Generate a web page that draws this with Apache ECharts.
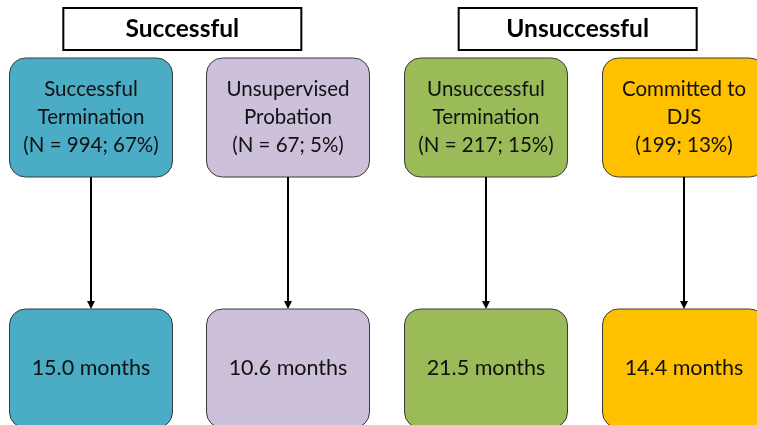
<!DOCTYPE html>
<html>
<head>
<meta charset="utf-8">
<script src="https://cdn.jsdelivr.net/npm/echarts@6/dist/echarts.min.js"></script>
<style>html,body{margin:0;padding:0;background:#fff}#chart{width:757px;height:425px}</style>
</head>
<body>
<div id="chart"></div>
<script>
// ---- data ----
const groups = ['Successful', 'Unsuccessful'];
const groupOf = [0, 0, 1, 1];
const categoryLines = [
  ['Successful', 'Termination'],
  ['Unsupervised', 'Probation'],
  ['Unsuccessful', 'Termination'],
  ['Committed to', 'DJS']
];
const counts = [994, 67, 217, 199];
const percents = [67, 5, 15, 13];
const showN = [true, true, true, false];
const months = [15.0, 10.6, 21.5, 14.4];
const colors = ['#4BACC6', '#CCC0DA', '#9BBB59', '#FFC000'];

const topLabels = categoryLines.map((l, i) =>
  l.join('\n') + '\n(' + (showN[i] ? 'N = ' : '') + counts[i] + '; ' + percents[i] + '%)');
const bottomLabels = months.map(m => m.toFixed(1) + ' months');

const chart = echarts.init(document.getElementById('chart'), null, {renderer: 'canvas'});
const BW = 163, BH = 119, R = 16;
const FONT = '20.5px Lato, "Open Sans", sans-serif';
const FONT_B = '21.5px Lato, "Open Sans", sans-serif';

chart.setOption({
  animation: false,
  backgroundColor: '#ffffff',
  grid: {left: 90.5, width: 593, top: 117.5, height: 251},
  xAxis: {type: 'value', min: 0, max: 3, show: false},
  yAxis: {type: 'value', min: 0, max: 1, inverse: true, show: false},
  series: [
    {
      type: 'custom',
      clip: false,
      data: categoryLines.map((_, i) => [i, 0, 1]),
      renderItem: function (params, api) {
        const i = api.value(0);
        const p1 = api.coord([i, api.value(1)]);
        const p2 = api.coord([i, api.value(2)]);
        const x = Math.round(p1[0]);
        const y1 = p1[1], y2 = p2[1];
        const arrowTop = y1 + BH / 2, arrowBot = y2 - BH / 2;
        return {
          type: 'group',
          children: [
            {type: 'rect', shape: {x: x - BW / 2, y: y1 - BH / 2, width: BW, height: BH, r: R},
             style: {fill: colors[i], stroke: '#3a3a3a', lineWidth: 1}},
            {type: 'text', style: {x: x, y: y1, text: topLabels[i], align: 'center', verticalAlign: 'middle',
             font: FONT, lineHeight: 28, fill: '#111'}},
            {type: 'line', shape: {x1: x, y1: arrowTop, x2: x, y2: arrowBot - 5},
             style: {stroke: '#000', lineWidth: 2}},
            {type: 'polygon', shape: {points: [[x - 4, arrowBot - 8], [x + 4, arrowBot - 8], [x, arrowBot]]},
             style: {fill: '#000'}},
            {type: 'rect', shape: {x: x - BW / 2, y: y2 - BH / 2, width: BW, height: BH, r: R},
             style: {fill: colors[i], stroke: '#3a3a3a', lineWidth: 1}},
            {type: 'text', style: {x: x, y: y2, text: bottomLabels[i], align: 'center', verticalAlign: 'middle',
             font: FONT_B, fill: '#111'}}
          ]
        };
      }
    },
    {
      type: 'custom',
      clip: false,
      data: groups.map((g, k) => [k * 2 + 0.5, 0]),
      renderItem: function (params, api) {
        const k = params.dataIndex;
        const p = api.coord([api.value(0), api.value(1)]);
        const cx = p[0] - 7, cy = p[1] - 88.5;
        return {
          type: 'group',
          children: [
            {type: 'rect', shape: {x: cx - 119, y: cy - 21, width: 238, height: 42},
             style: {fill: '#fff', stroke: '#000', lineWidth: 2}},
            {type: 'text', style: {x: cx, y: cy, text: groups[k], align: 'center', verticalAlign: 'middle',
             font: 'bold 24.5px Lato, "Open Sans", sans-serif', fill: '#000'}}
          ]
        };
      }
    }
  ]
});
</script>
</body>
</html>
